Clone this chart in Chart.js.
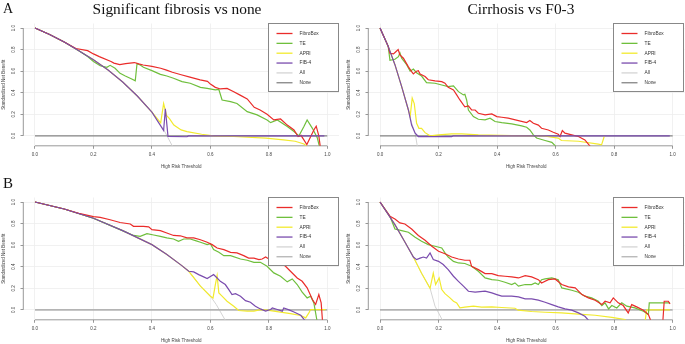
<!DOCTYPE html>
<html>
<head>
<meta charset="utf-8">
<script src="https://cdn.jsdelivr.net/npm/chart.js@4.4.0/dist/chart.umd.min.js"></script>
<style>
  body { margin: 0; background: #fff; }
  #wrap { position: relative; width: 685px; height: 344px; overflow: hidden; }
  canvas { position: absolute; }
  .ttl { position: absolute; font-family: "Liberation Serif", serif; line-height: 1; color: #111; white-space: nowrap; }
</style>
</head>
<body>
<div id="wrap">
  <canvas id="sigTop" width="345" height="170" style="left:0;top:0"></canvas>
  <canvas id="cirTop" width="340" height="170" style="left:345px;top:0"></canvas>
  <canvas id="sigBot" width="345" height="174" style="left:0;top:170px"></canvas>
  <canvas id="cirBot" width="340" height="174" style="left:345px;top:170px"></canvas>
  <div class="ttl" style="left:3px;top:1.5px;font-size:14px">A</div>
  <div class="ttl" style="left:177px;top:0.5px;font-size:15.4px;transform:translateX(-50%)">Significant fibrosis vs none</div>
  <div class="ttl" style="left:521px;top:0.5px;font-size:15.4px;transform:translateX(-50%)">Cirrhosis vs F0-3</div>
  <div class="ttl" style="left:3px;top:175.7px;font-size:15px">B</div>
</div>
<script>
// legend / series
const seriesNames = ['FibroBox', 'TE', 'APRI', 'FIB-4', 'All', 'None'];
const seriesColors = ['#ea2c2a', '#6fbf3c', '#f2ea2e', '#7a4cae', '#d4d4d4', '#8a8a8a'];
const drawOrder = [3, 0, 1, 2, 5, 4]; // first one ends up on top
const xTicks = [0, 0.2, 0.4, 0.6, 0.8, 1.0];
const yTicks = [0, 0.2, 0.4, 0.6, 0.8, 1.0];
const noneLine = [[0, 0], [1, 0]];

// A, significant fibrosis vs none  [threshold, standardized net benefit]
const aSigFibroBox = [[0,1],[0.05,0.94],[0.1,0.87],[0.14,0.81],[0.18,0.79],[0.2,0.76],[0.22,0.735],[0.26,0.69],[0.27,0.675],[0.29,0.66],[0.31,0.67],[0.34,0.68],[0.355,0.667],[0.37,0.657],[0.4,0.645],[0.43,0.627],[0.45,0.61],[0.47,0.59],[0.5,0.567],[0.53,0.545],[0.565,0.52],[0.59,0.505],[0.6,0.48],[0.617,0.45],[0.634,0.435],[0.657,0.44],[0.68,0.41],[0.7,0.38],[0.726,0.343],[0.75,0.265],[0.77,0.24],[0.794,0.2],[0.817,0.148],[0.84,0.157],[0.863,0.1],[0.886,0.055],[0.9,-0.006],[0.91,0.005],[0.93,-0.08],[0.954,0.055],[0.962,0.09],[0.971,0.0],[0.977,-0.12]];
const aSigTE = [[0,1],[0.05,0.94],[0.1,0.87],[0.15,0.79],[0.18,0.735],[0.2,0.69],[0.223,0.65],[0.246,0.636],[0.257,0.654],[0.274,0.627],[0.291,0.58],[0.309,0.555],[0.331,0.528],[0.343,0.51],[0.349,0.67],[0.36,0.657],[0.371,0.636],[0.4,0.605],[0.429,0.57],[0.451,0.555],[0.474,0.534],[0.503,0.503],[0.531,0.488],[0.566,0.45],[0.589,0.44],[0.617,0.426],[0.629,0.43],[0.64,0.333],[0.669,0.318],[0.691,0.3],[0.726,0.225],[0.76,0.195],[0.794,0.148],[0.806,0.123],[0.829,0.148],[0.863,0.086],[0.886,0.04],[0.903,0.0],[0.92,0.086],[0.931,0.148],[0.949,0.07],[0.966,-0.02],[0.975,-0.12]];
const aSigAPRI = [[0,1],[0.05,0.94],[0.1,0.87],[0.15,0.79],[0.2,0.705],[0.25,0.61],[0.3,0.5],[0.35,0.37],[0.4,0.22],[0.43,0.12],[0.44,0.3],[0.45,0.19],[0.46,0.16],[0.475,0.1],[0.5,0.055],[0.52,0.04],[0.57,0.015],[0.61,0.0],[0.68,-0.006],[0.79,-0.02],[0.85,-0.037],[0.89,-0.05],[0.92,-0.075],[0.94,-0.12]];
const aSigFIB4 = [[0,1],[0.05,0.94],[0.1,0.87],[0.15,0.79],[0.2,0.705],[0.25,0.61],[0.3,0.5],[0.35,0.37],[0.4,0.22],[0.44,0.05],[0.446,0.25],[0.455,-0.005],[0.52,-0.008],[0.525,0],[0.99,0]];
const aSigAll = [[0,1],[0.05,0.94],[0.1,0.87],[0.15,0.79],[0.2,0.705],[0.25,0.61],[0.3,0.5],[0.35,0.37],[0.4,0.22],[0.44,0.06],[0.475,-0.12]];

// A, cirrhosis vs F0-3
const aCirFibroBox = [[0,1],[0.028,0.83],[0.034,0.766],[0.046,0.76],[0.054,0.78],[0.062,0.8],[0.068,0.75],[0.08,0.72],[0.097,0.64],[0.108,0.596],[0.114,0.574],[0.125,0.6],[0.131,0.605],[0.137,0.574],[0.154,0.55],[0.165,0.52],[0.188,0.51],[0.211,0.503],[0.222,0.488],[0.233,0.45],[0.251,0.426],[0.262,0.38],[0.273,0.333],[0.285,0.287],[0.29,0.27],[0.302,0.278],[0.313,0.24],[0.325,0.24],[0.336,0.21],[0.359,0.194],[0.382,0.204],[0.399,0.179],[0.416,0.173],[0.438,0.164],[0.473,0.142],[0.501,0.123],[0.512,0.142],[0.524,0.117],[0.541,0.1],[0.552,0.071],[0.575,0.055],[0.592,0.034],[0.609,0.015],[0.615,-0.006],[0.623,0.05],[0.632,0.025],[0.655,0.01],[0.678,-0.006],[0.7,-0.037],[0.725,-0.12]];
const aCirTE = [[0,1],[0.028,0.83],[0.034,0.7],[0.051,0.71],[0.063,0.735],[0.068,0.77],[0.074,0.72],[0.091,0.66],[0.103,0.6],[0.114,0.62],[0.125,0.586],[0.142,0.555],[0.159,0.494],[0.188,0.488],[0.211,0.472],[0.233,0.457],[0.251,0.463],[0.268,0.41],[0.285,0.38],[0.29,0.386],[0.296,0.333],[0.302,0.24],[0.319,0.179],[0.336,0.154],[0.359,0.148],[0.376,0.164],[0.393,0.133],[0.416,0.123],[0.45,0.111],[0.484,0.093],[0.501,0.08],[0.512,0.055],[0.524,0.01],[0.535,-0.02],[0.564,-0.043],[0.587,-0.06],[0.609,-0.12]];
const aCirAPRI = [[0,1],[0.028,0.83],[0.051,0.66],[0.074,0.457],[0.097,0.24],[0.103,0.18],[0.11,0.35],[0.117,0.3],[0.125,0.117],[0.133,0.07],[0.142,0.07],[0.154,0.03],[0.171,0.0],[0.2,0.01],[0.245,0.018],[0.28,0.018],[0.336,0.01],[0.45,0.003],[0.56,0.0],[0.609,-0.02],[0.62,-0.043],[0.678,-0.05],[0.746,-0.077],[0.757,-0.083],[0.766,-0.006]];
const aCirFIB4 = [[0,1],[0.028,0.83],[0.051,0.66],[0.074,0.457],[0.097,0.24],[0.108,0.1],[0.12,0.025],[0.131,-0.006],[0.245,-0.006],[0.25,0],[0.99,0]];
const aCirAll = [[0,1],[0.028,0.83],[0.051,0.66],[0.074,0.457],[0.097,0.24],[0.108,0.12],[0.12,0.025],[0.129,-0.12]];

// B, significant fibrosis vs none
const bSigFibroBox = [[0,1],[0.1,0.935],[0.15,0.895],[0.2,0.864],[0.223,0.858],[0.257,0.836],[0.291,0.81],[0.326,0.796],[0.337,0.775],[0.371,0.775],[0.389,0.77],[0.4,0.744],[0.429,0.735],[0.451,0.713],[0.474,0.69],[0.497,0.687],[0.52,0.667],[0.543,0.667],[0.566,0.65],[0.589,0.627],[0.606,0.605],[0.623,0.574],[0.646,0.559],[0.669,0.534],[0.691,0.528],[0.714,0.503],[0.731,0.48],[0.749,0.48],[0.766,0.466],[0.777,0.472],[0.789,0.49],[0.8,0.472],[0.82,0.46],[0.84,0.44],[0.857,0.404],[0.874,0.358],[0.897,0.296],[0.914,0.265],[0.931,0.204],[0.949,0.096],[0.96,0.05],[0.971,0.142],[0.979,0.065],[0.984,-0.12]];
const bSigTE = [[0,1],[0.1,0.935],[0.2,0.85],[0.269,0.77],[0.303,0.73],[0.337,0.69],[0.36,0.682],[0.383,0.707],[0.406,0.694],[0.429,0.682],[0.451,0.667],[0.474,0.657],[0.491,0.636],[0.509,0.657],[0.531,0.657],[0.549,0.642],[0.566,0.627],[0.589,0.605],[0.6,0.614],[0.611,0.559],[0.629,0.534],[0.646,0.503],[0.669,0.503],[0.703,0.472],[0.726,0.46],[0.749,0.441],[0.771,0.441],[0.794,0.404],[0.817,0.343],[0.84,0.312],[0.863,0.26],[0.88,0.287],[0.897,0.235],[0.914,0.164],[0.931,0.111],[0.943,0.127],[0.954,0.065],[0.966,-0.12]];
const bSigAPRI = [[0,1],[0.1,0.935],[0.2,0.85],[0.3,0.735],[0.4,0.605],[0.45,0.515],[0.5,0.415],[0.526,0.358],[0.566,0.22],[0.6,0.127],[0.609,0.11],[0.617,0.235],[0.623,0.318],[0.629,0.157],[0.64,0.127],[0.657,0.08],[0.68,0.034],[0.697,-0.006],[0.726,-0.012],[0.749,-0.012],[0.771,0.003],[0.794,-0.003],[0.84,-0.02],[0.874,-0.034],[0.909,-0.052],[0.926,-0.074],[0.937,-0.028],[0.943,0.003],[0.994,0.003]];
const bSigFIB4 = [[0,1],[0.1,0.935],[0.2,0.85],[0.3,0.735],[0.4,0.605],[0.45,0.515],[0.5,0.415],[0.526,0.358],[0.543,0.352],[0.56,0.327],[0.577,0.306],[0.589,0.29],[0.6,0.31],[0.611,0.327],[0.623,0.296],[0.634,0.265],[0.651,0.235],[0.663,0.188],[0.674,0.142],[0.686,0.151],[0.703,0.127],[0.72,0.086],[0.737,0.071],[0.754,0.034],[0.771,0.009],[0.789,-0.012],[0.806,0.003],[0.812,0.018],[0.829,0.003],[0.846,-0.012],[0.851,0.018],[0.869,0.0],[0.886,-0.02],[0.909,-0.05],[0.93,-0.12]];
const bSigAll = [[0,1],[0.1,0.935],[0.2,0.85],[0.3,0.735],[0.4,0.605],[0.45,0.515],[0.5,0.415],[0.526,0.358],[0.566,0.22],[0.6,0.127],[0.62,0.05],[0.656,-0.12]];

// B, cirrhosis vs F0-3
const bCirFibroBox = [[0,1],[0.034,0.867],[0.051,0.843],[0.068,0.806],[0.085,0.796],[0.108,0.75],[0.131,0.69],[0.154,0.645],[0.177,0.59],[0.2,0.543],[0.222,0.52],[0.245,0.49],[0.268,0.472],[0.29,0.46],[0.307,0.46],[0.313,0.404],[0.336,0.373],[0.359,0.336],[0.382,0.336],[0.404,0.318],[0.427,0.312],[0.45,0.306],[0.473,0.296],[0.496,0.318],[0.518,0.306],[0.541,0.28],[0.552,0.25],[0.575,0.28],[0.598,0.287],[0.621,0.235],[0.644,0.213],[0.667,0.204],[0.69,0.142],[0.712,0.111],[0.735,0.09],[0.758,0.049],[0.769,0.08],[0.786,0.065],[0.797,0.111],[0.814,0.065],[0.831,0.04],[0.848,-0.028],[0.86,0.049],[0.877,0.028],[0.9,-0.003],[0.917,-0.043],[0.928,-0.12],[0.966,-0.12],[0.971,0.08],[0.985,0.08],[0.991,0.055]];
const bCirTE = [[0,1],[0.034,0.867],[0.051,0.75],[0.074,0.735],[0.097,0.72],[0.12,0.673],[0.142,0.636],[0.165,0.605],[0.188,0.59],[0.211,0.574],[0.222,0.528],[0.233,0.49],[0.251,0.45],[0.268,0.435],[0.29,0.43],[0.313,0.404],[0.336,0.358],[0.359,0.296],[0.382,0.28],[0.404,0.275],[0.427,0.256],[0.45,0.235],[0.461,0.25],[0.473,0.22],[0.496,0.235],[0.518,0.235],[0.53,0.25],[0.541,0.235],[0.552,0.28],[0.564,0.287],[0.587,0.296],[0.609,0.28],[0.621,0.204],[0.655,0.182],[0.678,0.164],[0.7,0.127],[0.723,0.111],[0.746,0.08],[0.758,0.04],[0.769,0.065],[0.781,0.009],[0.792,0.04],[0.809,0.018],[0.826,0.065],[0.843,0.034],[0.871,0.018],[0.9,-0.012],[0.917,-0.043],[0.92,0.065],[0.951,0.065],[0.991,0.065]];
const bCirAPRI = [[0,1],[0.051,0.79],[0.085,0.63],[0.114,0.49],[0.142,0.34],[0.171,0.2],[0.182,0.34],[0.19,0.235],[0.202,0.296],[0.211,0.188],[0.222,0.15],[0.239,0.111],[0.251,0.08],[0.262,0.065],[0.273,0.018],[0.29,0.025],[0.319,0.034],[0.347,0.025],[0.382,0.028],[0.416,0.022],[0.461,0.015],[0.472,-0.003],[0.518,-0.015],[0.564,-0.022],[0.62,-0.028],[0.678,-0.04],[0.735,-0.05],[0.792,-0.07],[0.837,-0.09],[0.85,-0.12],[0.905,-0.12],[0.911,0.0],[0.991,0.0]];
const bCirFIB4 = [[0,1],[0.051,0.79],[0.085,0.63],[0.114,0.49],[0.125,0.466],[0.137,0.48],[0.148,0.49],[0.159,0.48],[0.171,0.528],[0.182,0.466],[0.2,0.45],[0.216,0.42],[0.233,0.373],[0.251,0.312],[0.268,0.265],[0.285,0.22],[0.302,0.173],[0.325,0.164],[0.359,0.173],[0.382,0.157],[0.399,0.142],[0.416,0.127],[0.45,0.127],[0.473,0.12],[0.496,0.102],[0.518,0.102],[0.541,0.09],[0.564,0.071],[0.587,0.049],[0.609,0.028],[0.632,0.009],[0.655,-0.003],[0.678,-0.028],[0.7,-0.059],[0.72,-0.12]];
const bCirAll = [[0,1],[0.051,0.79],[0.085,0.63],[0.114,0.49],[0.142,0.34],[0.171,0.2],[0.188,0.034],[0.218,-0.12]];

const axisFont = { size: 4.5, family: 'Liberation Sans' };
const axisGray = '#7f7f7f';

// R style axis lines, only from first to last tick
const rAxes = {
  id: 'rAxes',
  beforeDatasetsDraw(chart) {
    const { ctx, chartArea, scales: { x, y } } = chart;
    ctx.save();
    ctx.strokeStyle = axisGray;
    ctx.lineWidth = 0.8;
    ctx.beginPath();
    ctx.moveTo(chartArea.left, y.getPixelForValue(yTicks[0]));
    ctx.lineTo(chartArea.left, y.getPixelForValue(yTicks[yTicks.length - 1]));
    ctx.moveTo(x.getPixelForValue(xTicks[0]), chartArea.bottom);
    ctx.lineTo(x.getPixelForValue(xTicks[xTicks.length - 1]), chartArea.bottom);
    ctx.stroke();
    ctx.restore();
  }
};

// legend box in the top right corner, like R's legend("topright")
const legendBox = {
  id: 'legendBox',
  afterDraw(chart, args, opts) {
    const { ctx, chartArea } = chart;
    const w = 70, h = 68;
    const x0 = Math.round(chartArea.right - w - 1) + 0.5;
    const y0 = Math.round(chartArea.top - 0.5) + 0.5;
    ctx.save();
    ctx.fillStyle = '#fff';
    ctx.fillRect(x0, y0, w, h);
    ctx.strokeStyle = '#888';
    ctx.lineWidth = 1;
    ctx.strokeRect(x0, y0, w, h);
    ctx.font = '4.8px "Liberation Sans"';
    ctx.textBaseline = 'middle';
    seriesNames.forEach((name, i) => {
      const y = y0 + 10 + i * 9.85;
      ctx.strokeStyle = i === 5 ? opts.noneColor : seriesColors[i];
      ctx.lineWidth = 1.3;
      ctx.beginPath();
      ctx.moveTo(x0 + 8, y);
      ctx.lineTo(x0 + 24, y);
      ctx.stroke();
      ctx.fillStyle = '#333';
      ctx.fillText(name, x0 + 31, y);
    });
    ctx.restore();
  }
};

function makePanel(id, lines, padding, noneColor, noneWidth) {
  return new Chart(document.getElementById(id), {
    type: 'line',
    data: {
      datasets: drawOrder.map(i => ({
        label: seriesNames[i],
        data: lines[i].map(p => ({ x: p[0], y: p[1] })),
        borderColor: i === 5 ? noneColor : seriesColors[i],
        borderWidth: i === 5 ? noneWidth : (i === 4 ? 1 : 1.2),
        pointRadius: 0,
        tension: 0,
        fill: false,
        clip: 0
      }))
    },
    options: {
      responsive: false,
      animation: false,
      devicePixelRatio: 1,
      layout: { padding: padding },
      plugins: { legend: { display: false }, tooltip: { enabled: false }, legendBox: { noneColor: noneColor } },
      scales: {
        x: {
          type: 'linear', min: -0.04, max: 1.04,
          afterBuildTicks: s => { s.ticks = xTicks.map(v => ({ value: v })); },
          afterFit: s => { s.height = 24.2; },
          ticks: { padding: 3.6, font: axisFont, color: '#444', callback: v => Number(v).toFixed(1) },
          grid: { color: '#ededed', lineWidth: 0.8, drawTicks: true, tickLength: 3, tickColor: axisGray, tickWidth: 0.8 },
          border: { display: false },
          title: { display: true, text: 'High Risk Threshold', font: axisFont, color: '#444', padding: { top: 5.8, bottom: 0.8 } }
        },
        y: {
          type: 'linear', min: -0.092, max: 1.042,
          afterBuildTicks: s => { s.ticks = yTicks.map(v => ({ value: v })); },
          afterFit: s => { s.width = 23.3; },
          ticks: { minRotation: 90, maxRotation: 90, crossAlign: 'center', padding: 4, font: axisFont, color: '#444', callback: v => Number(v).toFixed(1) },
          grid: { color: '#ededed', lineWidth: 0.8, drawTicks: true, tickLength: 2.8, tickColor: axisGray, tickWidth: 0.8 },
          border: { display: false },
          title: { display: true, text: 'Standardized Net Benefit', font: axisFont, color: '#444', padding: { top: 1.3, bottom: 4.3 } }
        }
      }
    },
    plugins: [rAxes, legendBox]
  });
}

makePanel('sigTop', [aSigFibroBox, aSigTE, aSigAPRI, aSigFIB4, aSigAll, noneLine], { top: 23.5, right: 6, left: 0, bottom: 0 }, '#858585', 1.2);
makePanel('cirTop', [aCirFibroBox, aCirTE, aCirAPRI, aCirFIB4, aCirAll, noneLine], { top: 23.5, right: 0.6, left: 0, bottom: 0 }, '#858585', 1.2);
makePanel('sigBot', [bSigFibroBox, bSigTE, bSigAPRI, bSigFIB4, bSigAll, noneLine], { top: 27.5, right: 6, left: 0, bottom: 0 }, '#b4b4b4', 1.7);
makePanel('cirBot', [bCirFibroBox, bCirTE, bCirAPRI, bCirFIB4, bCirAll, noneLine], { top: 27.5, right: 0.6, left: 0, bottom: 0 }, '#b4b4b4', 1.7);
</script>
</body>
</html>
